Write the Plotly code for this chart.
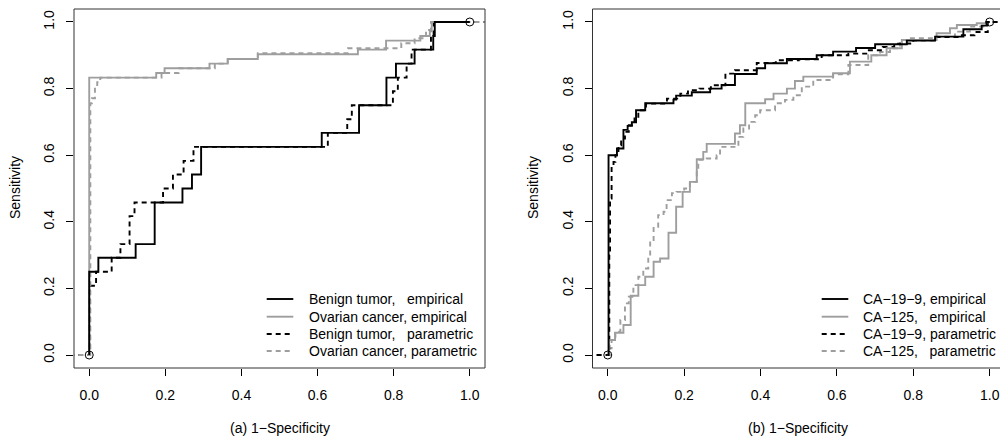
import plotly.graph_objects as go

# ---------------- data (panel a) ----------------
benign_emp_fpr = [0, 0, 0.024, 0.122, 0.172, 0.245, 0.270, 0.294, 0.611, 0.709, 0.781, 0.806, 0.855, 0.904, 0.908, 1.0]
benign_emp_tpr = [0, 0.25, 0.292, 0.333, 0.458, 0.5, 0.542, 0.625, 0.667, 0.75, 0.833, 0.875, 0.917, 0.958, 1.0, 1.0]

benign_par_fpr = [-0.1, 0.001, 0.001, 0.018, 0.059, 0.082, 0.106, 0.119, 0.194, 0.220, 0.248, 0.274, 0.627, 0.678, 0.690, 0.798, 0.811, 0.834, 0.847, 0.898, 0.905, 1.1]
benign_par_tpr = [0, 0, 0.208, 0.25, 0.292, 0.333, 0.417, 0.458, 0.5, 0.542, 0.583, 0.625, 0.667, 0.708, 0.75, 0.792, 0.833, 0.875, 0.917, 0.958, 1.0, 1.0]

ovarian_emp_fpr = [0, 0, 0.176, 0.198, 0.316, 0.364, 0.443, 0.706, 0.78, 0.87, 0.895, 0.90, 1.0]
ovarian_emp_tpr = [0, 0.833, 0.847, 0.861, 0.875, 0.889, 0.903, 0.917, 0.944, 0.958, 0.972, 1.0, 1.0]

ovarian_par_fpr = [-0.1, 0.003, 0.003, 0.007, 0.015, 0.021, 0.029, 0.19, 0.235, 0.33, 0.364, 0.443, 0.68, 0.82, 0.855, 0.885, 0.898, 1.1]
ovarian_par_tpr = [0, 0, 0.756, 0.771, 0.804, 0.819, 0.833, 0.847, 0.861, 0.875, 0.889, 0.906, 0.921, 0.936, 0.951, 0.976, 1.0, 1.0]

# ---------------- data (panel b) ----------------
ca199_emp_fpr = [0, 0.002, 0.024, 0.041, 0.052, 0.063, 0.074, 0.098, 0.172, 0.179, 0.22, 0.268, 0.298, 0.333, 0.39, 0.412, 0.469, 0.547, 0.59, 0.65, 0.70, 0.783, 0.857, 0.931, 0.979, 0.992, 1.0]
ca199_emp_tpr = [0, 0.6, 0.62, 0.676, 0.688, 0.699, 0.735, 0.756, 0.767, 0.779, 0.789, 0.8, 0.811, 0.844, 0.861, 0.876, 0.889, 0.9, 0.911, 0.922, 0.933, 0.944, 0.956, 0.978, 0.989, 1.0, 1.0]

ca199_par_fpr = [-0.1, 0.004, 0.004, 0.006, 0.01, 0.015, 0.02, 0.028, 0.035, 0.045, 0.055, 0.07, 0.08, 0.1, 0.155, 0.19, 0.21, 0.24, 0.27, 0.308, 0.333, 0.39, 0.44, 0.5, 0.56, 0.63, 0.68, 0.72, 0.75, 0.8, 0.86, 0.92, 0.96, 0.995, 1.1]
ca199_par_tpr = [0, 0, 0.3, 0.47, 0.567, 0.58, 0.6, 0.63, 0.65, 0.67, 0.69, 0.71, 0.735, 0.755, 0.77, 0.785, 0.795, 0.8, 0.81, 0.845, 0.855, 0.877, 0.885, 0.888, 0.9, 0.905, 0.915, 0.925, 0.935, 0.945, 0.955, 0.96, 0.97, 1.0, 1.0]

ca125_emp_fpr = [0, 0.003, 0.019, 0.041, 0.06, 0.08, 0.098, 0.12, 0.137, 0.159, 0.179, 0.196, 0.215, 0.233, 0.25, 0.259, 0.333, 0.346, 0.36, 0.412, 0.434, 0.469, 0.49, 0.512, 0.59, 0.634, 0.69, 0.73, 0.77, 0.861, 0.896, 0.914, 0.966, 0.992, 1.0]
ca125_emp_tpr = [0, 0.045, 0.067, 0.09, 0.178, 0.21, 0.235, 0.28, 0.29, 0.367, 0.445, 0.49, 0.52, 0.588, 0.61, 0.634, 0.665, 0.69, 0.756, 0.768, 0.785, 0.8, 0.823, 0.836, 0.846, 0.881, 0.9, 0.921, 0.946, 0.966, 0.981, 0.991, 0.996, 1.0, 1.0]

ca125_par_fpr = [-0.1, 0.004, 0.01, 0.02, 0.033, 0.045, 0.055, 0.067, 0.08, 0.093, 0.106, 0.111, 0.12, 0.132, 0.146, 0.154, 0.168, 0.18, 0.2, 0.215, 0.233, 0.237, 0.259, 0.285, 0.294, 0.342, 0.355, 0.37, 0.386, 0.399, 0.438, 0.464, 0.486, 0.508, 0.538, 0.59, 0.63, 0.682, 0.713, 0.739, 0.765, 0.791, 0.861, 0.909, 0.948, 0.992, 1.1]
ca125_par_tpr = [0, 0.02, 0.045, 0.07, 0.105, 0.155, 0.175, 0.21, 0.235, 0.26, 0.295, 0.345, 0.385, 0.42, 0.43, 0.465, 0.486, 0.49, 0.5, 0.52, 0.556, 0.586, 0.59, 0.6, 0.625, 0.655, 0.68, 0.7, 0.72, 0.735, 0.756, 0.766, 0.78, 0.806, 0.826, 0.843, 0.871, 0.9, 0.91, 0.921, 0.936, 0.951, 0.956, 0.971, 0.986, 1.0, 1.0]

endpoint_fpr = [0, 1]
endpoint_tpr = [0, 1]

tick_vals = [0.0, 0.2, 0.4, 0.6, 0.8, 1.0]
tick_text = ["0.0", "0.2", "0.4", "0.6", "0.8", "1.0"]

legend_a = ["Benign tumor,\u00a0\u00a0\u00a0empirical", "Ovarian cancer, empirical",
            "Benign tumor,\u00a0\u00a0\u00a0parametric", "Ovarian cancer, parametric"]
legend_b = ["CA\u221219\u22129, empirical", "CA\u2212125,\u00a0\u00a0\u00a0empirical",
            "CA\u221219\u22129, parametric", "CA\u2212125,\u00a0\u00a0\u00a0parametric"]
xlabel_a = "(a) 1\u2212Specificity"
xlabel_b = "(b) 1\u2212Specificity"
ylabel = "Sensitivity"

# ---------------- styling ----------------
W, H = 1000, 442
FONT = "Liberation Sans, Arial, Helvetica, sans-serif"
FS = 14
BLACK = "#000000"
GRAY = "#9e9e9e"
LW = 1.9
DASH = "5px,4px"

def px_x(p):
    return p / W

def px_y(p):
    return 1 - p / H

styles = [
    dict(color=BLACK, dash="solid"),
    dict(color=GRAY, dash="solid"),
    dict(color=BLACK, dash=DASH),
    dict(color=GRAY, dash=DASH),
]

fig = go.Figure()

panel_a = [(benign_emp_fpr, benign_emp_tpr), (ovarian_emp_fpr, ovarian_emp_tpr),
           (benign_par_fpr, benign_par_tpr), (ovarian_par_fpr, ovarian_par_tpr)]
panel_b = [(ca199_emp_fpr, ca199_emp_tpr), (ca125_emp_fpr, ca125_emp_tpr),
           (ca199_par_fpr, ca199_par_tpr), (ca125_par_fpr, ca125_par_tpr)]

for (panel, xa, ya, names, order) in [(panel_a, "x", "y", legend_a, [2, 3, 1, 0]),
                                      (panel_b, "x2", "y2", legend_b, [3, 2, 1, 0])]:
    for i in order:
        fx, ty = panel[i]
        fig.add_trace(go.Scatter(
            x=fx, y=ty, mode="lines", line_shape="hv",
            line=dict(color=styles[i]["color"], width=LW, dash=styles[i]["dash"]),
            xaxis=xa, yaxis=ya, showlegend=False, name=names[i], hoverinfo="skip"))
    fig.add_trace(go.Scatter(
        x=endpoint_fpr, y=endpoint_tpr, mode="markers",
        marker=dict(symbol="circle-open", size=8, color=BLACK, line=dict(width=1, color=BLACK)),
        xaxis=xa, yaxis=ya, showlegend=False, hoverinfo="skip"))

# axes geometry (pixel measurements of the reference)
y_dom = [px_y(368), px_y(9)]
ax_common = dict(
    tickmode="array", tickvals=tick_vals, ticktext=tick_text,
    ticks="outside", ticklen=7, tickwidth=1, tickcolor=BLACK,
    showgrid=False, zeroline=False, showline=False, fixedrange=True,
    ticklabeloverflow="allow",
    tickfont=dict(family=FONT, size=FS, color=BLACK),
)
fig.update_layout(
    xaxis=dict(domain=[px_x(74), px_x(485)], range=[-0.04, 1.04], anchor="y", ticklabelstandoff=7, **ax_common),
    yaxis=dict(domain=y_dom, range=[-0.039, 1.039], anchor="x", tickangle=-90, ticklabelstandoff=6, **ax_common),
    xaxis2=dict(domain=[px_x(592.5), 1.0], range=[-0.04, (1000 - 607.7) / 382.0], anchor="y2", ticklabelstandoff=7, **ax_common),
    yaxis2=dict(domain=y_dom, range=[-0.039, 1.039], anchor="x2", tickangle=-90, ticklabelstandoff=6, **ax_common),
)

shapes = []
annotations = []
box_col = "#333333"
for xr, yr, right in [("x", "y", True), ("x2", "y2", False)]:
    xd = xr + " domain"
    yd = yr + " domain"
    shapes.append(dict(type="line", xref=xd, yref=yd, x0=0, x1=1, y0=0, y1=0, line=dict(color=box_col, width=1)))
    shapes.append(dict(type="line", xref=xd, yref=yd, x0=0, x1=1, y0=1, y1=1, line=dict(color=box_col, width=1)))
    shapes.append(dict(type="line", xref=xd, yref=yd, x0=0, x1=0, y0=0, y1=1, line=dict(color=box_col, width=1)))
    if right:
        shapes.append(dict(type="line", xref=xd, yref=yd, x0=1, x1=1, y0=0, y1=1, line=dict(color=box_col, width=1)))

# legends
rows_y = [299, 316.7, 334, 351]
for (lx0, lx1, tx, labels) in [(266.7, 293.3, 306.7, legend_a), (821.7, 848.3, 860.7, legend_b)]:
    for i, (ry, lab) in enumerate(zip(rows_y, labels)):
        shapes.append(dict(type="line", xref="paper", yref="paper",
                           x0=px_x(lx0), x1=px_x(lx1), y0=px_y(ry), y1=px_y(ry),
                           line=dict(color=styles[i]["color"], width=LW, dash=styles[i]["dash"])))
        annotations.append(dict(text=lab, xref="paper", yref="paper", x=px_x(tx), y=px_y(ry),
                                xanchor="left", yanchor="middle", showarrow=False,
                                font=dict(family=FONT, size=FS, color=BLACK)))

# axis titles
for cx, lab in [(279.5, xlabel_a), (798.2, xlabel_b)]:
    annotations.append(dict(text=lab, xref="paper", yref="paper", x=px_x(cx), y=px_y(428),
                            xanchor="center", yanchor="middle", showarrow=False,
                            font=dict(family=FONT, size=FS, color=BLACK)))
for cx in [15, 533]:
    annotations.append(dict(text=ylabel, xref="paper", yref="paper", x=px_x(cx), y=px_y(188),
                            xanchor="center", yanchor="middle", showarrow=False, textangle=-90,
                            font=dict(family=FONT, size=FS, color=BLACK)))

fig.update_layout(
    width=W, height=H, margin=dict(l=0, r=0, t=0, b=0),
    paper_bgcolor="white", plot_bgcolor="white",
    shapes=shapes, annotations=annotations, showlegend=False,
    font=dict(family=FONT, size=FS, color=BLACK),
    hovermode=False,
)

fig.write_html(
    "out.html",
    config={"displayModeBar": False, "staticPlot": True},
    post_script="document.body.style.margin='0';document.body.style.overflow='hidden';",
)
